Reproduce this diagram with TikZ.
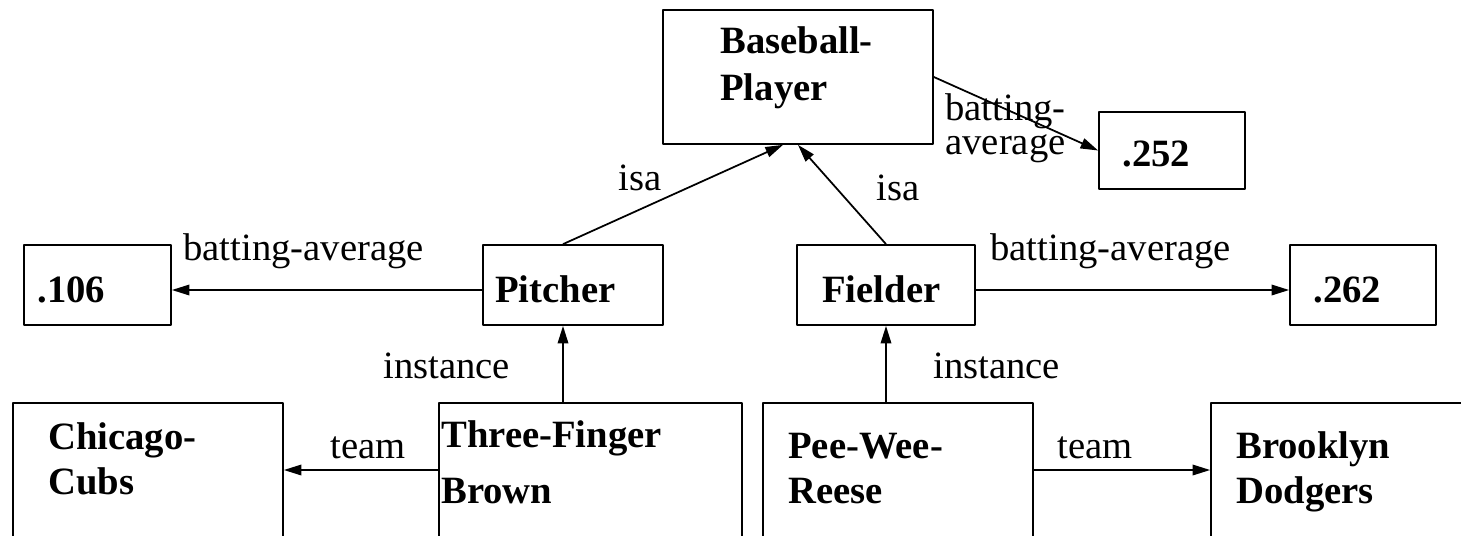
\documentclass[tikz,border=0pt]{standalone}
\usepackage{fontspec}
\setmainfont{Liberation Serif}
\usetikzlibrary{arrows.meta}
\tikzset{
  box/.style={draw,line width=1pt,inner sep=0pt},
  txt/.style={anchor=base west,inner sep=0pt,font=\fontsize{22}{26}\selectfont},
  title/.style={anchor=base west,inner sep=0pt,font=\fontsize{22}{26}\selectfont\bfseries},
  arr/.style={line width=1pt,-{Triangle[length=10pt,width=6pt]}}
}
\begin{document}
\begin{tikzpicture}[x=0.02cm,y=-0.02cm,line join=round]
\clip (0,0) rectangle (1461,535);
% frames
\node[box,minimum width=5.4cm,minimum height=2.68cm] (bp) at (798,77) {};
\node[box,minimum width=2.92cm,minimum height=1.54cm] (v252) at (1172,150.5) {};
\node[box,minimum width=2.94cm,minimum height=1.6cm] (v106) at (97.5,285) {};
\node[box,minimum width=3.6cm,minimum height=1.6cm] (pitcher) at (573,285) {};
\node[box,minimum width=3.56cm,minimum height=1.6cm] (fielder) at (886,285) {};
\node[box,minimum width=2.92cm,minimum height=1.6cm] (v262) at (1363,285) {};
\node[box,minimum width=5.4cm,minimum height=2.68cm] (cubs) at (148,470) {};
\node[box,minimum width=6.06cm,minimum height=2.68cm] (brown) at (590.5,470) {};
\node[box,minimum width=5.4cm,minimum height=2.68cm] (reese) at (898,470) {};
\node[box,minimum width=5.4cm,minimum height=2.68cm] (dodgers) at (1346,470) {};
% names
\node[title] (bpA) at (720,53) {Baseball-};
\node[title] (bpB) at (720,100) {Player};
\node[title] (t252) at (1122,166) {.252};
\node[title] (t106) at (37,302) {.106};
\node[title] (tpit) at (495,302) {Pitcher};
\node[title] (tfld) at (822,302) {Fielder};
\node[title] (t262) at (1313,302) {.262};
\node[title] (cubsA) at (48,449) {Chicago-};
\node[title] (cubsB) at (48,494) {Cubs};
\node[title] (brownA) at (441,447) {Three-Finger};
\node[title] (brownB) at (441,503) {Brown};
\node[title] (reeseA) at (788,458) {Pee-Wee-};
\node[title] (reeseB) at (788,503) {Reese};
\node[title] (dodgersA) at (1236,458) {Brooklyn};
\node[title] (dodgersB) at (1236,503) {Dodgers};
% slot labels
\node[txt] (lba1) at (945,120) {batting-};
\node[txt] (lba2) at (945,154) {average};
\node[txt] (lisa1) at (618,190) {isa};
\node[txt] (lisa2) at (876,200) {isa};
\node[txt] (lbl106) at (183,260) {batting-average};
\node[txt] (lbl262) at (990,260) {batting-average};
\node[txt] (linst1) at (383,378) {instance};
\node[txt] (linst2) at (933,378) {instance};
\node[txt] (lteam1) at (330,458) {team};
\node[txt] (lteam2) at (1057,458) {team};
% links
\coordinate (pa) at ([xshift=-0.2cm]pitcher.south);
\draw[arr] (bp.east) -- (v252.west);
\draw[arr] ([xshift=-0.2cm]pitcher.north) -- ([xshift=-0.3cm]bp.south);
\draw[arr] (fielder.north) -- (bp.south);
\draw[arr] ([yshift=-0.1cm]pitcher.west) -- ([yshift=-0.1cm]v106.east);
\draw[arr] ([yshift=-0.1cm]fielder.east) -- ([yshift=-0.1cm]v262.west);
\draw[arr] (pa |- brown.north) -- (pa);
\draw[arr] (fielder.south |- reese.north) -- (fielder.south);
\draw[arr] (brown.west) -- (cubs.east);
\draw[arr] (reese.east) -- (dodgers.west);
\end{tikzpicture}
\end{document}
